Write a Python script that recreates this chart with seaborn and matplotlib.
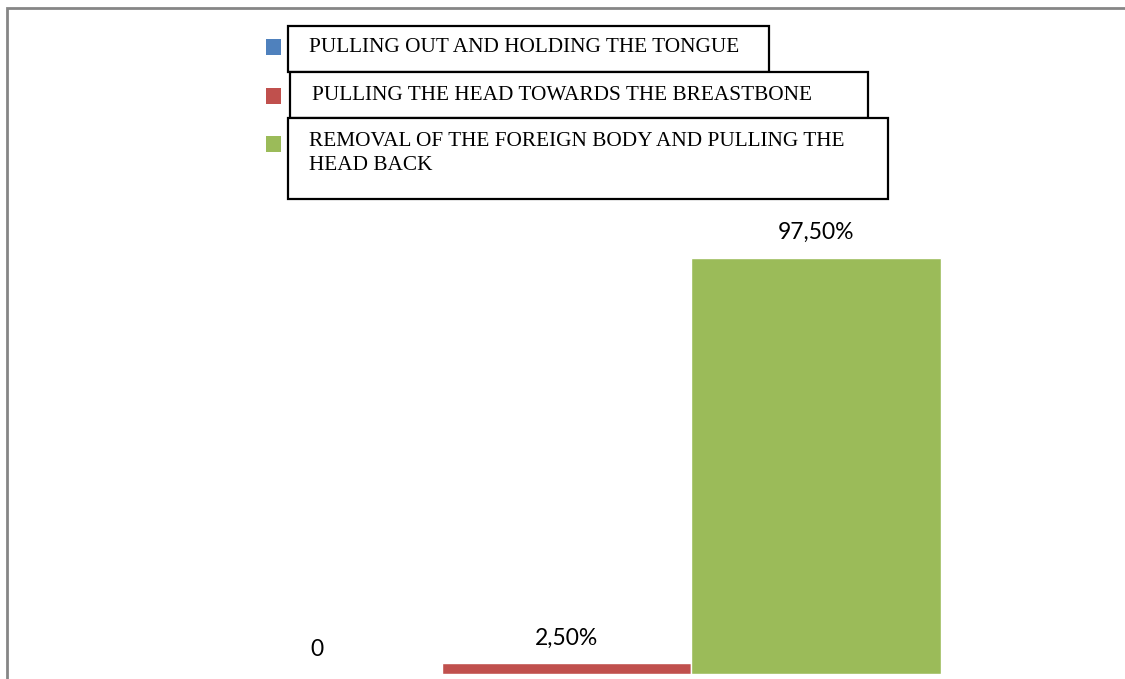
import pandas as pd
import matplotlib.pyplot as plt
import seaborn as sns
from matplotlib.patches import Rectangle

# Data
methods = ['PULLING OUT AND HOLDING THE TONGUE',
           'PULLING THE HEAD TOWARDS THE BREASTBONE',
           'REMOVAL OF THE FOREIGN BODY AND PULLING THE\nHEAD BACK']
values = [0, 2.5, 97.5]
value_labels = ['0', '2,50%', '97,50%']
colors = ['#4F81BD', '#C0504D', '#9BBB59']

df = pd.DataFrame({'method': methods, 'pct': values})

W, H = 1125, 679
sns.set_theme(style='white')
fig = plt.figure(figsize=(W / 100, H / 100), dpi=100)

# axes spans the whole width, baseline at y=674px
ax = fig.add_axes([0, 5 / H, 1, 666 / H])
sns.barplot(data=df, x='method', y='pct', hue='method', palette=colors,
            width=1, saturation=1, legend=False, ax=ax)
ax.set_xlim(-317 / 249.5, (W - 317) / 249.5)
ax.set_ylim(0, 666 / 4.27)
ax.axis('off')

# value labels above bars
for p, lbl in zip(ax.patches, value_labels):
    ax.annotate(lbl, (p.get_x() + p.get_width() / 2, p.get_height()),
                xytext=(0, 18), textcoords='offset points',
                ha='center', va='center', fontsize=16.5, family='Lato', color='black')

# outer chart frame (runs off the right and bottom edges)
fig.patches.append(Rectangle((7 / W, -0.1), 1.2, 1.1 - 8 / H, transform=fig.transFigure,
                             fill=False, edgecolor='#868686', lw=2))


def px(x, y):
    return x / W, 1 - y / H


# legend: colour squares
for c, yc in zip(colors, [47, 96, 144]):
    x0, y0 = px(266, yc + 7.5)
    fig.patches.append(Rectangle((x0, y0), 15 / W, 15 / H, transform=fig.transFigure,
                                 facecolor=c, edgecolor='none'))

# legend: boxed texts (boxes overlap like in the original)
boxes = [(288, 26, 769, 72), (290, 72, 868, 118), (288, 118, 888, 199)]
text_pos = [(309, 48), (312, 96), (309, 141)]
for (l, t, r, b), (tx, ty), m in zip(boxes, text_pos, methods):
    x0, y0 = px(l, b)
    fig.patches.append(Rectangle((x0, y0), (r - l) / W, (b - t) / H, transform=fig.transFigure,
                                 facecolor='white', edgecolor='black', lw=1.6))
    for i, line in enumerate(m.split('\n')):
        fig.text(*px(tx, ty + 25 * i), line, ha='left', va='center', fontsize=15.3,
                 family='Liberation Serif', color='black')

fig.savefig('out.png', dpi=100)
